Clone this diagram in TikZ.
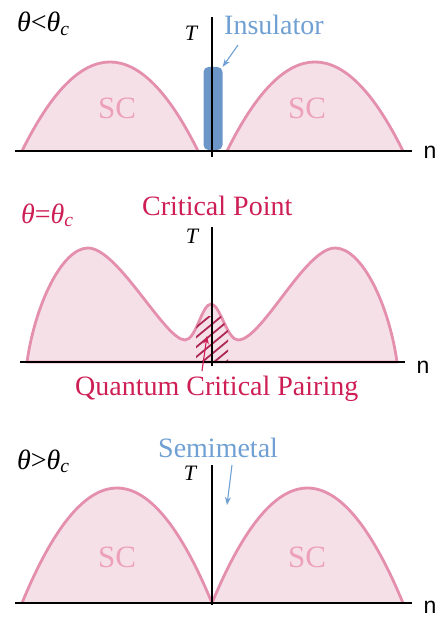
\documentclass[tikz,border=0pt]{standalone}
\usepackage{fontspec}
\setmainfont{Liberation Serif}
\newfontfamily\nfont{Liberation Sans}
\usetikzlibrary{arrows.meta}
\definecolor{scline}{RGB}{228,143,173}
\definecolor{scfill}{RGB}{246,224,232}
\definecolor{sctext}{RGB}{236,160,186}
\definecolor{insblue}{RGB}{108,150,200}
\definecolor{txtblue}{RGB}{112,160,210}
\definecolor{crim}{RGB}{205,30,85}
\definecolor{hatchc}{RGB}{175,40,85}
\newcommand\qcpcurve{(27,362) .. controls (35,305) and (62,248) .. (88,248)
  .. controls (118,248) and (165,340) .. (185,340)
  .. controls (196,340) and (202,304) .. (211,304)
  .. controls (220,304) and (227,340) .. (238,340)
  .. controls (262,340) and (305,248) .. (335,248)
  .. controls (362,248) and (389,305) .. (397,362) -- cycle}
\begin{document}
\begin{tikzpicture}[x=1pt,y=-1pt,
  dome/.style={draw=scline, fill=scfill, line width=2.8pt, line join=round},
  axisline/.style={line width=2.8pt, black},
  lbl/.style={inner sep=0pt, anchor=base west, font=\fontsize{28}{30}\selectfont},
  sclbl/.style={inner sep=0pt, text=sctext, font=\fontsize{31}{33}\selectfont},
  tlbl/.style={inner sep=0pt, font=\fontsize{22}{24}\selectfont\itshape},
  nlbl/.style={inner sep=0pt, font=\fontsize{23}{25}\selectfont\nfont},
  thlbl/.style={inner sep=0pt, anchor=base west, font=\fontsize{28}{30}\selectfont\itshape},
  thinarrow/.style={line width=1.1pt, -{Stealth[length=8pt,width=6pt]}},
  hatchline/.style={draw=hatchc, line width=1.8pt}]
\useasboundingbox (0,0) rectangle (444,620);

% ---------- Panel 1 ----------
\draw[dome] (22,151) .. controls (80.7,32.3) and (139.3,32.3) .. (198,151);
\draw[dome] (227,151) .. controls (285.7,32.3) and (344.3,32.3) .. (403,151);
\node[sclbl] (sc1l) at (117,108) {SC};
\node[sclbl] (sc1r) at (307,108) {SC};
\node[fill=insblue, rounded corners=5pt, minimum width=19pt, minimum height=83pt, inner sep=0pt] (ins) at (213,108.5) {};
\draw[axisline] (15,151) -- (412,151);
\draw[axisline] (212,17) -- (212,157);
\node[tlbl] (t1) at (191,33) {T};
\node[nlbl] (n1) at (430,152) {n};
\node[thlbl] (th1) at (17,32) {θ\textup{<}θ\textsubscript{c}};
\node[lbl, text=txtblue] (inslbl) at (224,35) {Insulator};
\coordinate (insa) at (238,45);
\draw[thinarrow, draw=txtblue, fill=txtblue] (insa) -- (ins.north east);

% ---------- Panel 2 ----------
\draw[dome] \qcpcurve;
\begin{scope}
  \clip \qcpcurve;
  \clip (196,316) rectangle (228,362);
  \foreach \k in {0,...,8} {
    \draw[hatchline] (130+\k*12,372) -- ++(80,-66);
  }
\end{scope}
\draw[axisline] (20,362) -- (405,362);
\draw[axisline] (212,227) -- (212,366);
\node[tlbl] (t2) at (192,236) {T};
\node[nlbl] (n2) at (423,367) {n};
\node[thlbl, text=crim] (th2) at (21,223) {θ\textup{=}θ\textsubscript{c}};
\node[lbl, text=crim] (cp) at (142,215) {Critical Point};
\node[lbl, text=crim] (qcp) at (75,395) {Quantum Critical Pairing};
\coordinate (qcpa) at (202,371);
\coordinate (qcpb) at (207,336);
\draw[thinarrow, draw=crim, fill=crim] (qcpa) -- (qcpb);

% ---------- Panel 3 ----------
\draw[dome] (22,603) .. controls (85.3,449.7) and (148.7,449.7) .. (212,603);
\draw[dome] (212,603) .. controls (275.7,449.7) and (339.3,449.7) .. (403,603);
\node[sclbl] (sc3l) at (117,557) {SC};
\node[sclbl] (sc3r) at (307,557) {SC};
\draw[axisline] (15,603) -- (412,603);
\draw[axisline] (212,465) -- (212,605);
\node[tlbl] (t3) at (190,473) {T};
\node[nlbl] (n3) at (430,607) {n};
\node[thlbl] (th3) at (17,469) {θ\textup{>}θ\textsubscript{c}};
\node[lbl, text=txtblue] (sm) at (158,457) {Semimetal};
\coordinate (sma) at (232,465);
\coordinate (smb) at (227,505);
\draw[thinarrow, draw=txtblue, fill=txtblue] (sma) -- (smb);
\end{tikzpicture}
\end{document}
